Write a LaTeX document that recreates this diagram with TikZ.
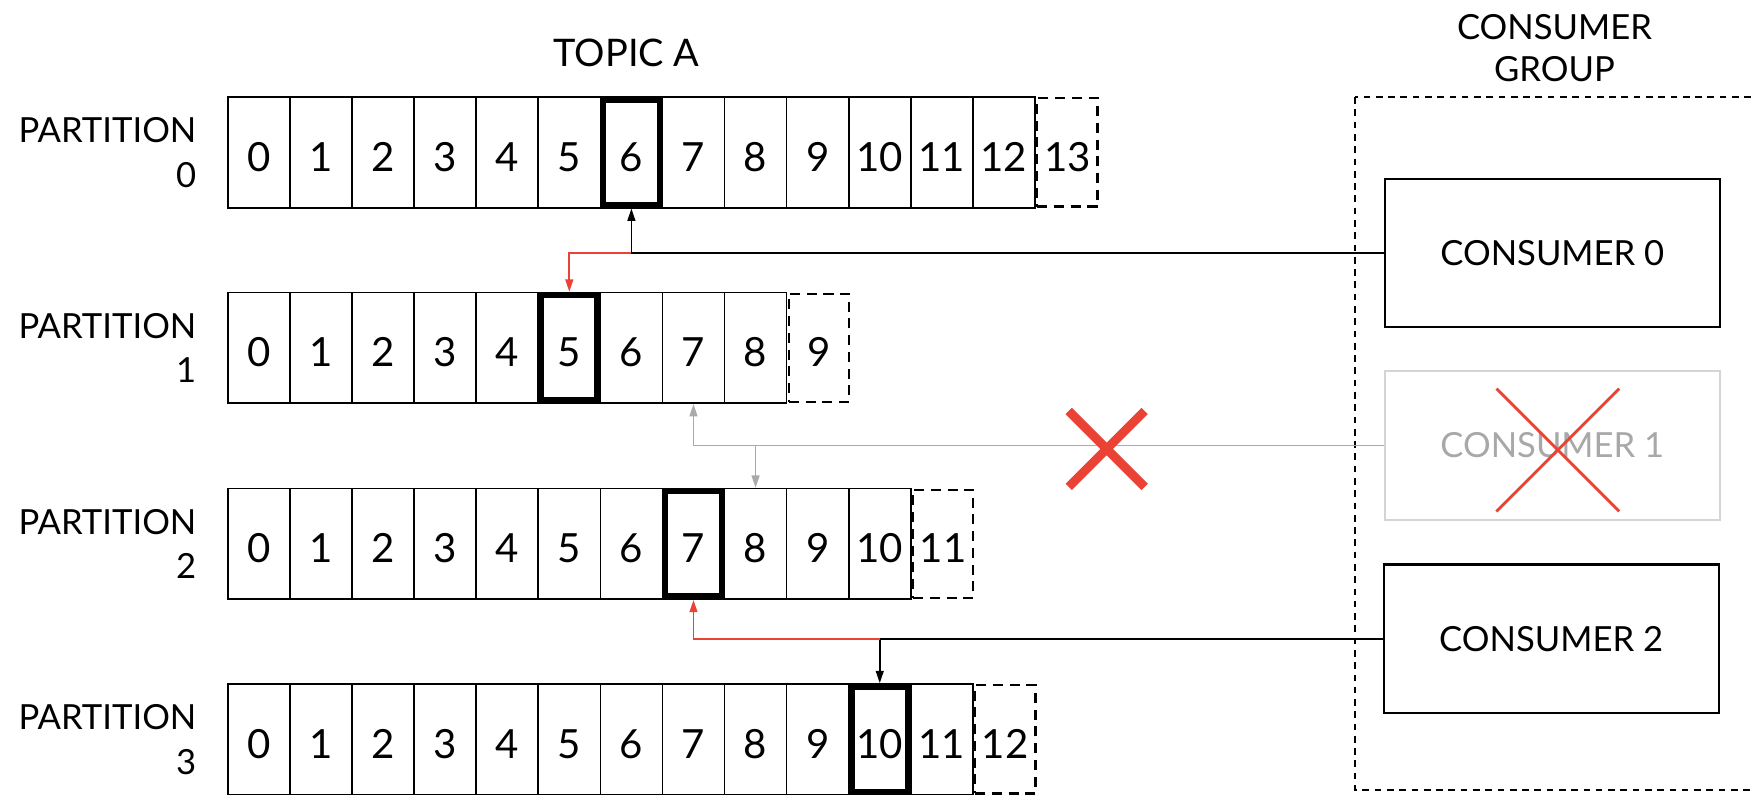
\documentclass[tikz,border=0pt]{standalone}
\usepackage{fontspec}
\setmainfont{Lato}
\usetikzlibrary{arrows.meta}
\definecolor{redc}{RGB}{234,67,53}
\definecolor{grayline}{RGB}{170,170,170}
\definecolor{graybox}{RGB}{212,212,212}
\definecolor{graytext}{RGB}{168,168,168}
\tikzset{
  cell/.style={draw, line width=1.5pt, minimum width=55.6pt, minimum height=99pt, inner sep=0pt, text height=34pt, text depth=0pt, font=\fontsize{36}{40}\selectfont},
  newcell/.style={draw, dashed, dash pattern=on 9pt off 6pt, line width=2pt, minimum width=54pt, minimum height=97pt, inner sep=0pt, text height=34pt, text depth=0pt, font=\fontsize{36}{40}\selectfont},
  hl/.style={line width=6pt},
  plabel/.style={anchor=east, align=right, inner sep=0pt, font=\fontsize{31}{40}\selectfont},
  cons/.style={draw, line width=1.8pt, minimum width=300pt, minimum height=133pt, inner sep=0pt, font=\fontsize{31}{36}\selectfont},
  tip/.style={-{Triangle[length=11pt,width=7pt]}},
  conn/.style={line width=1.5pt, black, tip},
  redconn/.style={line width=1.5pt, redc, tip},
  grayconn/.style={line width=1.5pt, grayline, tip}
}
\begin{document}
\begin{tikzpicture}[x=1pt,y=-1pt]
\useasboundingbox (0,0) rectangle (1568,712);
% partitions
\foreach \p/\y/\n/\h in {0/136.5/13/6, 1/311.5/9/5, 2/487/11/7, 3/662/12/10} {
  \pgfmathtruncatemacro\last{\n-1}
  \foreach \i in {0,...,\last} {
    \node[cell] (p\p-\i) at ({204+55.6*(\i+0.5)}, \y) {\i};
  }
  \node[newcell] (p\p-n) at ({204+55.6*\n+29}, \y) {\n};
  \draw[hl] ([xshift=3pt,yshift=-3pt]p\p-\h.north west) rectangle ([xshift=-3pt,yshift=3pt]p\p-\h.south east);
  \node[plabel] (lab\p) at (176,\y) {PARTITION\\\p};
}
\node[font=\fontsize{34}{40}\selectfont] (topic) at (561,47) {TOPIC A};
% consumer group
\node[align=center, font=\fontsize{31}{38}\selectfont] (cglabel) at (1392,43) {CONSUMER\\GROUP};
\draw[dashed, dash pattern=on 6pt off 5pt, line width=1.8pt] (1213,87) rectangle (1590,707);
\node[cons] (c0) at (1390,226.5) {CONSUMER 0};
\node[cons, draw=graybox, text=graytext] (c1) at (1390,399) {CONSUMER 1};
\node[cons] (c2) at (1389,572) {CONSUMER 2};
\draw[redc, line width=2.5pt] (1340,348) -- (1450,458) (1340,458) -- (1450,348);
% connectors
\coordinate (j0) at (p0-6.south |- c0.west);
\coordinate (j1) at (p2-8.north |- c1.west);
\coordinate (j2) at (p3-10.north |- c2.west);
\draw[grayconn] (c1.west) -| (p1-7.south);
\draw[grayconn] (j1) -- (p2-8.north);
\draw[conn] (c0.west) -| (p0-6.south);
\draw[redconn] (j0) -| (p1-5.north);
\draw[conn] (c2.west) -| (p3-10.north);
\draw[redconn] (j2) -| (p2-7.south);
% big red cross
\coordinate (xc) at (991,402);
\draw[redc, line width=8pt] ([shift={(-34pt,34pt)}]xc) -- ([shift={(34pt,-34pt)}]xc) ([shift={(-34pt,-34pt)}]xc) -- ([shift={(34pt,34pt)}]xc);
\end{tikzpicture}
\end{document}
